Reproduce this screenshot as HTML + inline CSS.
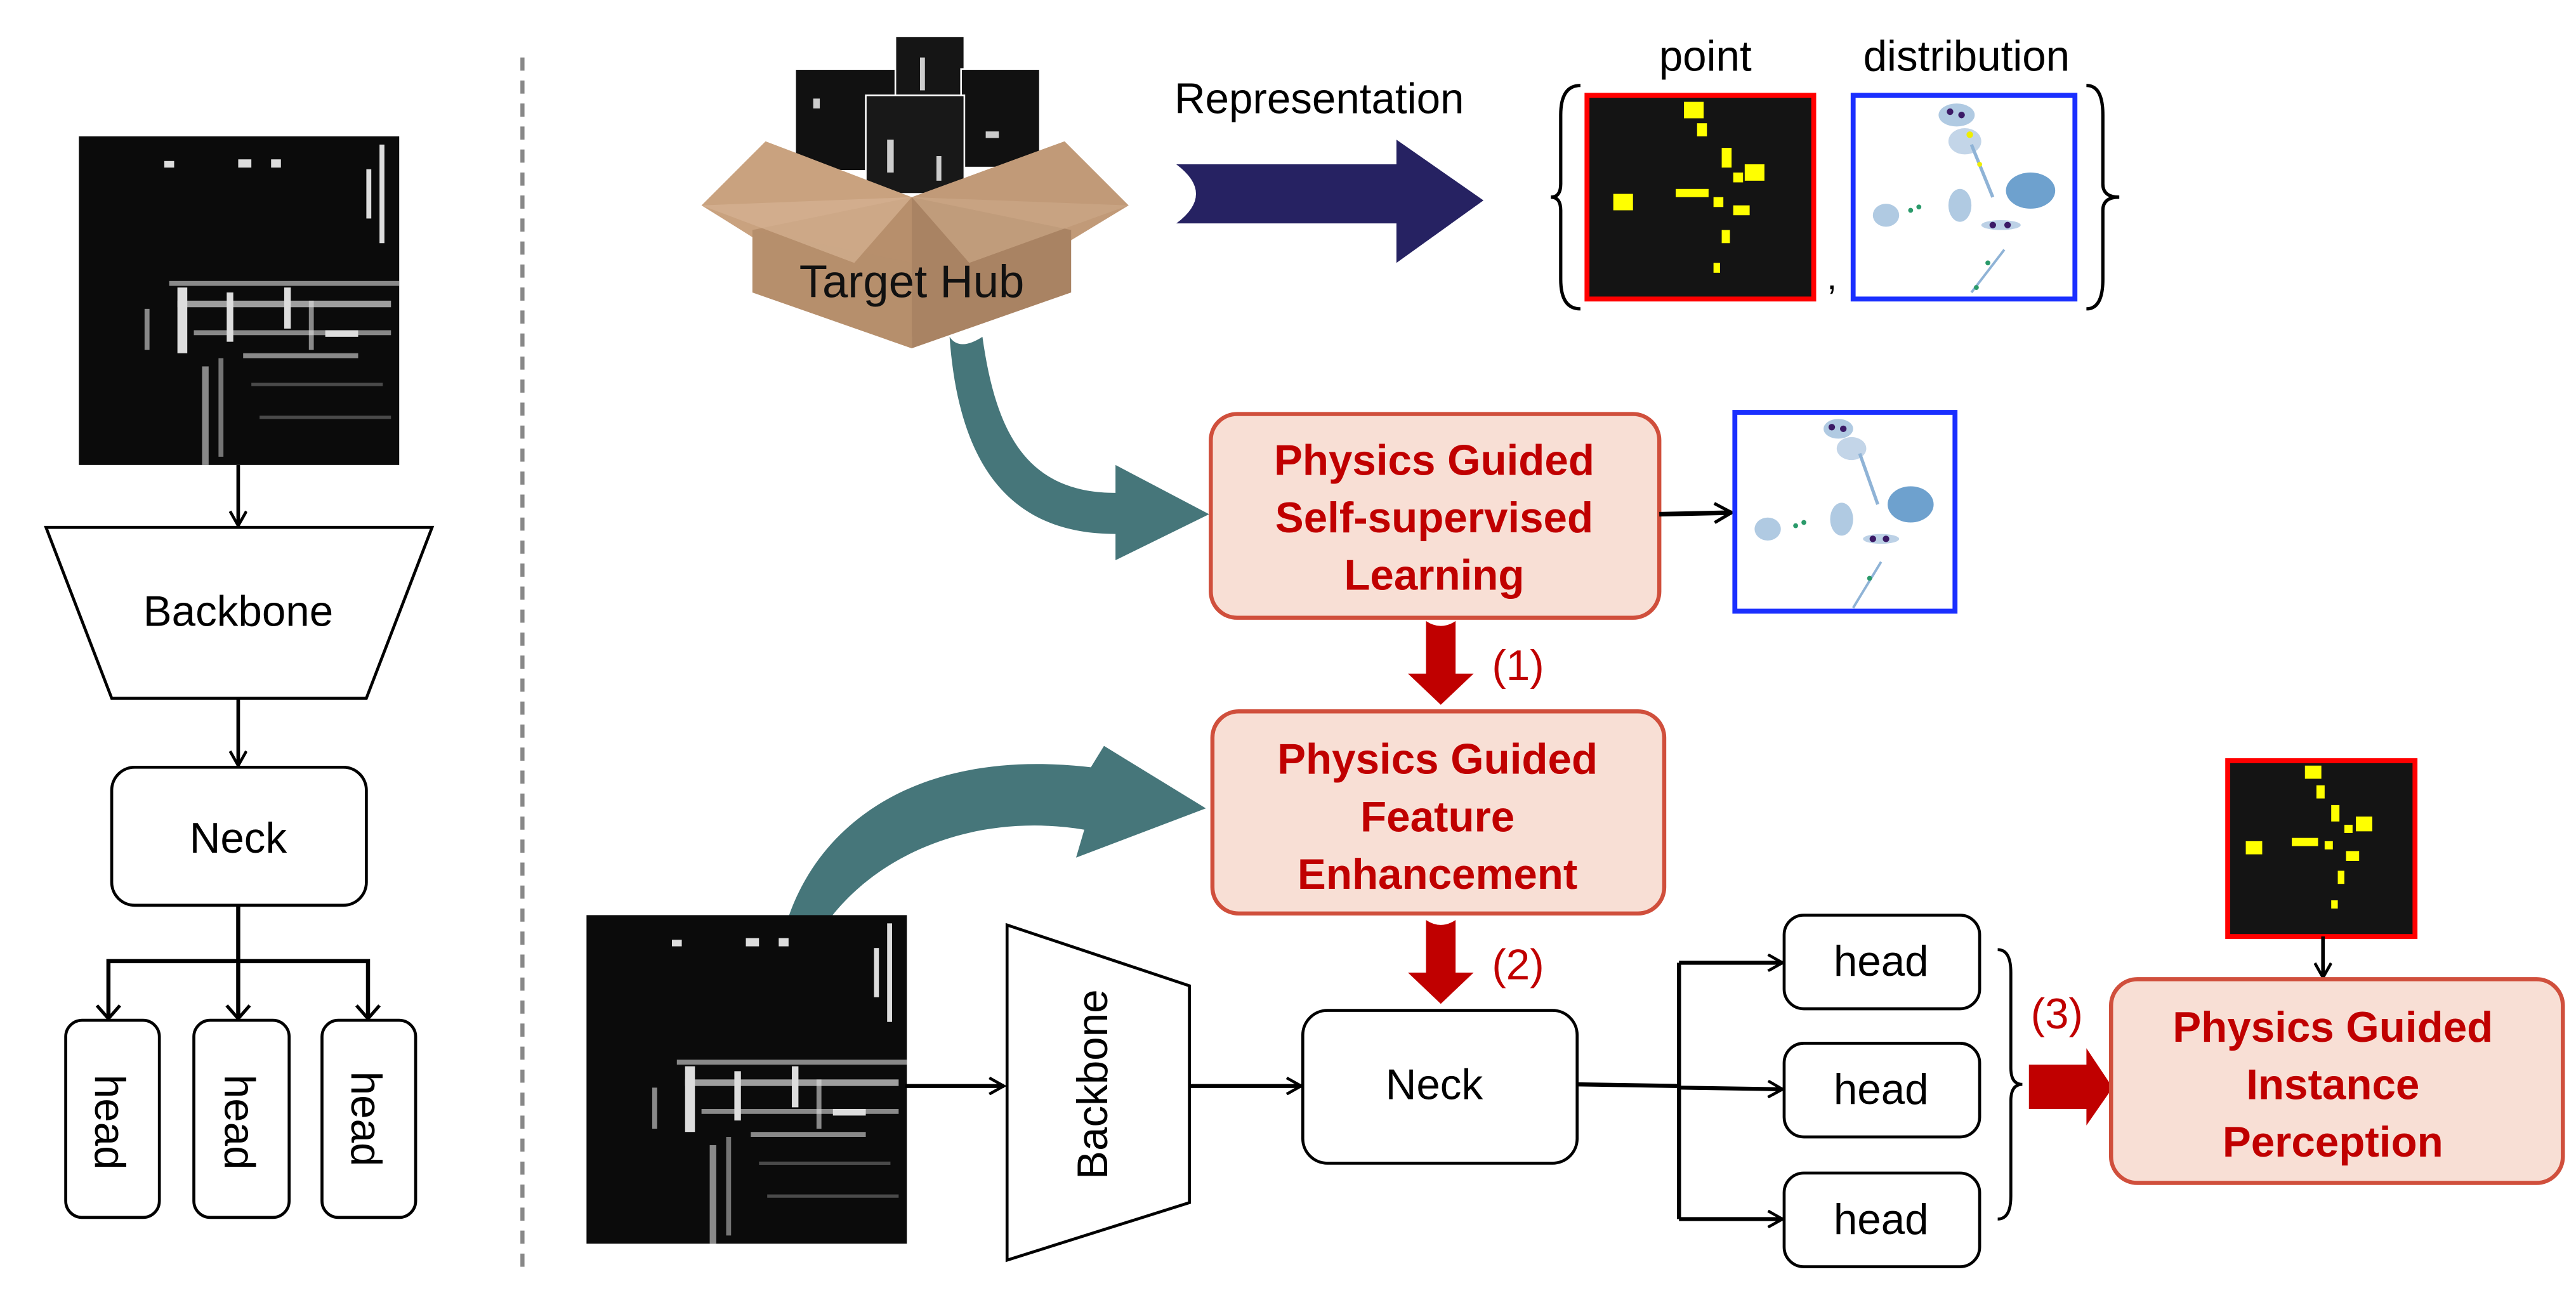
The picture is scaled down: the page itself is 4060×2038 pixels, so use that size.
<!DOCTYPE html>
<html><head><meta charset="utf-8"><style>
html,body{margin:0;padding:0;background:#fff;}
svg{display:block;}
text{font-family:"Liberation Sans",Arial,sans-serif;}
</style></head><body>
<svg width="4060" height="2038" viewBox="0 0 1568 787" preserveAspectRatio="none" xmlns="http://www.w3.org/2000/svg">
<defs>
<marker id="ah" viewBox="0 0 10 10" refX="9" refY="5" markerWidth="11" markerHeight="11" orient="auto" markerUnits="userSpaceOnUse">
<path d="M1,0.5 L9,5 L1,9.5" fill="none" stroke="#000" stroke-width="1.6"/></marker>
<marker id="ah2" viewBox="0 0 10 10" refX="9" refY="5" markerWidth="13" markerHeight="13" orient="auto" markerUnits="userSpaceOnUse">
<path d="M1,0.5 L9,5 L1,9.5" fill="none" stroke="#000" stroke-width="1.5"/></marker>
<g id="sar">
<rect x="0" y="0" width="195" height="200" fill="#0b0b0b"/>
<g fill="#ddd">
<rect x="52" y="15" width="6" height="4"/><rect x="97" y="14" width="8" height="5"/><rect x="117" y="14" width="6" height="5"/>
<rect x="183" y="5" width="3" height="60"/><rect x="175" y="20" width="3" height="30"/>
<rect x="55" y="88" width="140" height="3" opacity=".6"/>
<rect x="60" y="100" width="130" height="4" opacity=".7"/>
<rect x="70" y="118" width="120" height="3" opacity=".6"/>
<rect x="60" y="92" width="6" height="40"/><rect x="90" y="95" width="4" height="30"/><rect x="125" y="92" width="4" height="25"/>
<rect x="150" y="118" width="20" height="4"/><rect x="100" y="132" width="70" height="3" opacity=".6"/>
<rect x="75" y="140" width="4" height="60" opacity=".6"/><rect x="85" y="135" width="3" height="60" opacity=".5"/>
<rect x="40" y="105" width="3" height="25" opacity=".6"/><rect x="140" y="100" width="3" height="30" opacity=".6"/>
<rect x="105" y="150" width="80" height="2" opacity=".3"/><rect x="110" y="170" width="80" height="2" opacity=".3"/>
</g>
</g>
</defs>

<line x1="318" y1="35" x2="318" y2="772" stroke="#888" stroke-width="2.5" stroke-dasharray="8,6"/>

<!-- LEFT -->
<use href="#sar" x="48" y="83"/>
<line x1="145" y1="283" x2="145" y2="320" stroke="#000" stroke-width="2.2" marker-end="url(#ah)"/>
<polygon points="28,321 263,321 223,425 68,425" fill="#fff" stroke="#000" stroke-width="1.8"/>
<text x="145" y="381" font-size="26" text-anchor="middle">Backbone</text>
<line x1="145" y1="425" x2="145" y2="466" stroke="#000" stroke-width="2.2" marker-end="url(#ah)"/>
<rect x="68" y="467" width="155" height="84" rx="14" fill="#fff" stroke="#000" stroke-width="1.8"/>
<text x="145" y="519" font-size="26" text-anchor="middle">Neck</text>
<path d="M145,551 V585 M66,620 V585 H224 V620 M145,585 V620" fill="none" stroke="#000" stroke-width="2.5"/>
<path d="M59,612 L66,620 L73,612 M138,612 L145,620 L152,612 M217,612 L224,620 L231,612" fill="none" stroke="#000" stroke-width="2"/>
<rect x="40" y="621" width="57" height="120" rx="10" fill="#fff" stroke="#000" stroke-width="1.8"/>
<rect x="118" y="621" width="58" height="120" rx="10" fill="#fff" stroke="#000" stroke-width="1.8"/>
<rect x="196" y="621" width="57" height="120" rx="10" fill="#fff" stroke="#000" stroke-width="1.8"/>
<text transform="translate(58,683) rotate(90)" font-size="26" text-anchor="middle">head</text>
<text transform="translate(137,683) rotate(90)" font-size="26" text-anchor="middle">head</text>
<text transform="translate(214,681) rotate(90)" font-size="26" text-anchor="middle">head</text>

<!-- TARGET HUB box -->
<g>
<rect x="484" y="42" width="62" height="62" fill="#111" stroke="#fff" stroke-width="1"/>
<rect x="545" y="22" width="42" height="60" fill="#151515" stroke="#fff" stroke-width="1"/>
<rect x="585" y="42" width="48" height="60" fill="#111" stroke="#fff" stroke-width="1"/>
<rect x="527" y="58" width="60" height="60" fill="#181818" stroke="#fff" stroke-width="1"/>
<g fill="#ccc"><rect x="560" y="35" width="3" height="20"/><rect x="540" y="85" width="4" height="20"/><rect x="600" y="80" width="8" height="4"/><rect x="495" y="60" width="4" height="6"/><rect x="570" y="95" width="3" height="15"/></g>
<polygon points="427,125 466,86 555,120 555,205" fill="#c9a27f"/>
<polygon points="687,125 648,86 555,120 555,205" fill="#c19a78"/>
<polygon points="458,140 555,120 555,212 458,178" fill="#b78f6c"/>
<polygon points="652,140 555,120 555,212 652,178" fill="#a98363"/>
<polygon points="458,140 555,160 555,212 458,178" fill="#b58e6c" opacity=".7"/>
<polygon points="427,125 520,160 555,120" fill="#d5b293" opacity=".7"/>
<polygon points="687,125 590,160 555,120" fill="#caa786" opacity=".7"/>
</g>
<text x="555" y="181" font-size="28" text-anchor="middle" fill="#111">Target Hub</text>

<text x="803" y="69" font-size="26" text-anchor="middle">Representation</text>
<path d="M716,100 H850 V85 L903,122 L850,160 V136 H716 Q740,118 716,100 Z" fill="#262262"/>

<text x="1038" y="43" font-size="26" text-anchor="middle">point</text>
<text x="1197" y="43" font-size="26" text-anchor="middle">distribution</text>
<path d="M962,52 Q950,52 950,70 V112 Q950,120 944,120 Q950,120 950,128 V170 Q950,188 962,188" fill="none" stroke="#000" stroke-width="2"/>
<path d="M1270,52 Q1280,52 1280,70 V112 Q1280,120 1290,120 Q1280,120 1280,128 V170 Q1280,188 1270,188" fill="none" stroke="#000" stroke-width="2"/>
<rect x="966" y="58" width="138" height="124" fill="#141414" stroke="#f00" stroke-width="3"/>
<g fill="#ff0">
<rect x="1025" y="62" width="12" height="10"/><rect x="1033" y="75" width="6" height="8"/><rect x="1048" y="90" width="6" height="12"/>
<rect x="1055" y="105" width="6" height="6"/><rect x="1062" y="100" width="12" height="10"/><rect x="1043" y="120" width="6" height="6"/>
<rect x="1020" y="115" width="20" height="5"/><rect x="982" y="118" width="12" height="10"/><rect x="1055" y="125" width="10" height="6"/>
<rect x="1048" y="140" width="5" height="8"/><rect x="1043" y="160" width="4" height="6"/>
</g>
<text x="1112" y="176" font-size="22">,</text>
<rect x="1128" y="58" width="135" height="124" fill="#fff" stroke="#1a2fff" stroke-width="3"/>
<g>
<ellipse cx="1191" cy="70" rx="11" ry="7" fill="#8fb3d6" opacity=".7"/>
<ellipse cx="1196" cy="86" rx="10" ry="8" fill="#a9c3de" opacity=".7"/>
<path d="M1200,88 L1213,120" stroke="#8fb3d6" stroke-width="2"/>
<ellipse cx="1236" cy="116" rx="15" ry="11" fill="#4a8ac2" opacity=".8"/>
<ellipse cx="1148" cy="131" rx="8" ry="7" fill="#8fb3d6" opacity=".7"/>
<ellipse cx="1193" cy="125" rx="7" ry="10" fill="#8fb3d6" opacity=".7"/>
<ellipse cx="1218" cy="137" rx="12" ry="3" fill="#8fb3d6" opacity=".6"/>
<path d="M1200,178 L1220,152" stroke="#8fb3d6" stroke-width="1.5"/>
<g fill="#3b1a66"><circle cx="1187" cy="68" r="2"/><circle cx="1194" cy="70" r="2"/><circle cx="1213" cy="137" r="2"/><circle cx="1222" cy="137" r="2"/></g>
<g fill="#2a9a6a"><circle cx="1163" cy="128" r="1.5"/><circle cx="1168" cy="126" r="1.5"/><circle cx="1210" cy="160" r="1.5"/><circle cx="1203" cy="175" r="1.5"/></g>
<g fill="#ee0"><circle cx="1199" cy="82" r="2"/><circle cx="1205" cy="100" r="1.5"/></g>
</g>

<path d="M578,205 Q584,214 598,205 C606,262 624,300 679,300 L679,283 L736,313 L679,341 L679,325 C620,325 584,290 578,205 Z" fill="#46767a"/>

<rect x="737" y="252" width="273" height="124" rx="16" fill="#f8dfd5" stroke="#d04f3c" stroke-width="2.5"/>
<g font-size="26" font-weight="bold" fill="#c00000" text-anchor="middle">
<text x="873" y="289">Physics Guided</text>
<text x="873" y="324">Self-supervised</text>
<text x="873" y="359">Learning</text>
</g>
<line x1="1010" y1="313" x2="1054" y2="312" stroke="#000" stroke-width="2.8" marker-end="url(#ah2)"/>
<rect x="1056" y="251" width="134" height="121" fill="#fff" stroke="#1a2fff" stroke-width="3"/>
<g>
<ellipse cx="1119" cy="261" rx="9" ry="6" fill="#8fb3d6" opacity=".7"/>
<ellipse cx="1127" cy="273" rx="9" ry="7" fill="#a9c3de" opacity=".7"/>
<path d="M1132,276 L1143,307" stroke="#8fb3d6" stroke-width="2"/>
<ellipse cx="1163" cy="307" rx="14" ry="11" fill="#4a8ac2" opacity=".8"/>
<ellipse cx="1076" cy="322" rx="8" ry="7" fill="#8fb3d6" opacity=".7"/>
<ellipse cx="1121" cy="316" rx="7" ry="10" fill="#8fb3d6" opacity=".7"/>
<ellipse cx="1145" cy="328" rx="11" ry="3" fill="#8fb3d6" opacity=".6"/>
<path d="M1128,370 L1145,342" stroke="#8fb3d6" stroke-width="1.5"/>
<g fill="#3b1a66"><circle cx="1115" cy="260" r="2"/><circle cx="1122" cy="261" r="2"/><circle cx="1140" cy="328" r="2"/><circle cx="1148" cy="328" r="2"/></g>
<g fill="#2a9a6a"><circle cx="1093" cy="320" r="1.5"/><circle cx="1098" cy="318" r="1.5"/><circle cx="1138" cy="352" r="1.5"/></g>
</g>

<path d="M868,378 Q877,384 886,378 V410 H897 L877,429 L857,410 H868 Z" fill="#c00000"/>
<text x="924" y="414" font-size="26" fill="#c00000" text-anchor="middle">(1)</text>

<rect x="738" y="433" width="275" height="123" rx="16" fill="#f8dfd5" stroke="#d04f3c" stroke-width="2.5"/>
<g font-size="26" font-weight="bold" fill="#c00000" text-anchor="middle">
<text x="875" y="471">Physics Guided</text>
<text x="875" y="506">Feature</text>
<text x="875" y="541">Enhancement</text>
</g>
<path d="M868,560 Q877,566 886,560 V592 H897 L877,611 L857,592 H868 Z" fill="#c00000"/>
<text x="924" y="596" font-size="26" fill="#c00000" text-anchor="middle">(2)</text>

<path d="M480,558 C500,500 560,455 664,467 L672,454 L734,492 L655,522 L660,505 C600,495 540,515 506,558 Z" fill="#46767a"/>

<use href="#sar" x="357" y="557"/>
<line x1="551" y1="661" x2="611" y2="661" stroke="#000" stroke-width="2.4" marker-end="url(#ah)"/>
<polygon points="613,563 724,600 724,732 613,767" fill="#fff" stroke="#000" stroke-width="1.8"/>
<text transform="translate(674,660) rotate(-90)" font-size="26" text-anchor="middle">Backbone</text>
<line x1="724" y1="661" x2="792" y2="661" stroke="#000" stroke-width="2.4" marker-end="url(#ah)"/>
<rect x="793" y="615" width="167" height="93" rx="15" fill="#fff" stroke="#000" stroke-width="1.8"/>
<text x="873" y="669" font-size="26" text-anchor="middle">Neck</text>
<path d="M960,660 L1022,661 M1022,586 V742" fill="none" stroke="#000" stroke-width="2.5"/>
<line x1="1022" y1="586" x2="1085" y2="586" stroke="#000" stroke-width="2.4" marker-end="url(#ah)"/>
<line x1="1022" y1="662" x2="1085" y2="663" stroke="#000" stroke-width="2.4" marker-end="url(#ah)"/>
<line x1="1022" y1="742" x2="1085" y2="742" stroke="#000" stroke-width="2.4" marker-end="url(#ah)"/>
<rect x="1086" y="557" width="119" height="57" rx="12" fill="#fff" stroke="#000" stroke-width="1.8"/>
<rect x="1086" y="635" width="119" height="57" rx="12" fill="#fff" stroke="#000" stroke-width="1.8"/>
<rect x="1086" y="714" width="119" height="57" rx="12" fill="#fff" stroke="#000" stroke-width="1.8"/>
<text x="1145" y="594" font-size="26" text-anchor="middle">head</text>
<text x="1145" y="672" font-size="26" text-anchor="middle">head</text>
<text x="1145" y="751" font-size="26" text-anchor="middle">head</text>
<path d="M1216,578 Q1224,578 1224,592 V650 Q1224,660 1231,660 Q1224,660 1224,670 V728 Q1224,742 1216,742" fill="none" stroke="#000" stroke-width="1.8"/>
<text x="1252" y="626" font-size="26" fill="#c00000" text-anchor="middle">(3)</text>
<path d="M1235,648 H1270 V638 L1286,662 L1270,685 V675 H1235 Z" fill="#c00000"/>

<rect x="1356" y="463" width="114" height="107" fill="#141414" stroke="#f00" stroke-width="3"/>
<g fill="#ff0">
<rect x="1403" y="466" width="10" height="8"/><rect x="1410" y="478" width="5" height="8"/><rect x="1419" y="490" width="5" height="10"/>
<rect x="1427" y="502" width="5" height="5"/><rect x="1434" y="497" width="10" height="9"/><rect x="1415" y="512" width="5" height="5"/>
<rect x="1395" y="510" width="16" height="5"/><rect x="1367" y="512" width="10" height="8"/><rect x="1428" y="518" width="8" height="6"/>
<rect x="1423" y="530" width="4" height="8"/><rect x="1419" y="548" width="4" height="5"/>
</g>
<line x1="1414" y1="570" x2="1414" y2="595" stroke="#000" stroke-width="2.2" marker-end="url(#ah)"/>

<rect x="1285" y="596" width="275" height="124" rx="16" fill="#f8dfd5" stroke="#d04f3c" stroke-width="2.5"/>
<g font-size="26" font-weight="bold" fill="#c00000" text-anchor="middle">
<text x="1420" y="634">Physics Guided</text>
<text x="1420" y="669">Instance</text>
<text x="1420" y="704">Perception</text>
</g>
</svg>
</body></html>
